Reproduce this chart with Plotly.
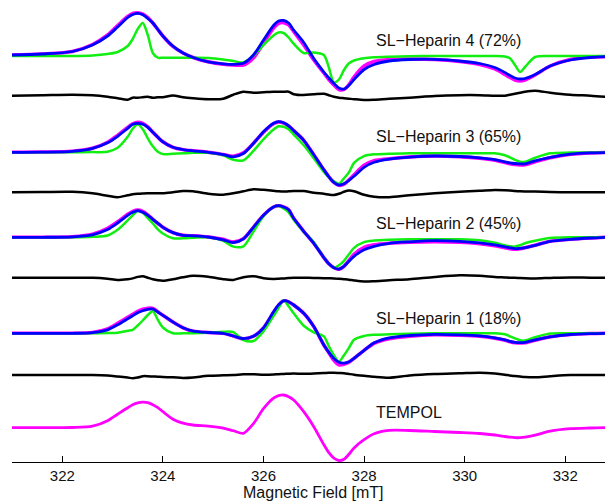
import plotly.graph_objects as go

# Magnetic field grid [mT]
field = [321.0, 321.6, 322.2, 322.6, 322.9, 323.1, 323.3, 323.4, 323.5, 323.6,
         323.7, 323.8, 323.9, 324.0, 324.2, 324.4, 324.6, 324.9, 325.2, 325.4,
         325.6, 325.8, 326.0, 326.2, 326.3, 326.4, 326.5, 326.6, 326.8, 327.0,
         327.2, 327.3, 327.4, 327.5, 327.6, 327.7, 327.8, 328.0, 328.2, 328.5,
         328.9, 329.4, 329.9, 330.3, 330.6, 330.8, 330.9, 331.0, 331.1, 331.2,
         331.4, 331.7, 332.1, 332.5, 332.8]

# TEMPOL reference spectrum (a.u.)
tempol = [0, 0, 0.2, 1.5, 7, 13.5, 20, 23, 24.8, 25.5,
          25, 23, 20, 16, 8.5, 4.5, 2.7, 1.5, -0.5, -3,
          -5.6, 4, 19, 29.5, 32, 32.7, 31, 27.7, 16, 1,
          -17, -25, -30.5, -32.8, -31.5, -26.5, -20.3, -12, -6, -2.7,
          -2.8, -3.8, -4.8, -5.8, -7.3, -8.8, -9.5, -10, -10, -9.5,
          -7.5, -3.5, -1, -0.3, 0]

# SL-Heparin 1 (18%)
h1_exp = [0, 0, 0, 0.8, 4.5, 10, 16, 19, 22, 24,
          25, 25, 21.5, 18, 11.3, 5.5, 2.2, 0.8, 0, -2.7,
          -5.5, -3, 5.5, 21, 28, 32.5, 31.5, 28.3, 20, 6.7,
          -11.7, -19.5, -27, -31.5, -31, -29, -25, -17, -10, -5.5,
          -3, -1.5, -2, -3, -5, -7, -8.5, -9.5, -9.8, -9.5,
          -7, -3.5, -1.2, -0.3, 0]
h1_fit = [0, 0, 0, 0.7, 3.5, 8.5, 14.5, 17.5, 20.5, 22.5,
          24, 24.3, 21.2, 18, 11.3, 5.5, 2.2, 0.8, 0, -2.7,
          -5.3, -3, 5.5, 21.5, 28.5, 32.5, 31.5, 28.3, 20, 6.7,
          -11.7, -19, -25.3, -29, -29.8, -28.5, -25, -17, -9.5, -4.5,
          -2.2, -1, -1.5, -2.5, -4.5, -6.5, -8, -9, -9.3, -9,
          -6.5, -3.5, -1.2, -0.3, 0]
h1_comp = [0, 0, 0, 0, 0.3, 0.6, 2.5, 3.5, 7.8, 12.8,
           18.3, 22, 13.5, 5.8, 0, 0, 0, 0.5, 1.5, 1.2,
           -6.7, -7.7, 2, 17.3, 25.3, 33, 27, 20, 7.5, 1,
           -3, -13, -22, -28.3, -22, -14.5, -6.5, -2.7, -1.5, -1,
           -0.5, 0, 0, 0, 0, -1, -3, -5, -7, -7.3,
           -4, -0.3, 0, 0, 0]
h1_res = [0, 0, 0, 0, -0.5, -1.5, -2.5, -3.3, -2.5, -1.2,
          -1.2, -1.5, -1.7, -2, -2.3, -3, -2.5, -0.8, -0.3, 0,
          0.7, 0.8, 0.3, 0.5, 0.8, 1, 1.3, 1.5, 1.2, 1.5,
          2, 2.2, 2.3, 2, 1.7, 1, 0.3, -0.8, -1.8, -2.7,
          -0.5, 1, 1.7, 2.3, 1.5, 0.3, -0.5, -1, -1.5, -2,
          -2.3, -1.2, 0, 0, 0]

# SL-Heparin 2 (45%)
h2_exp = [0, 0, 0.5, 3, 9, 15.5, 23, 26, 27.3, 26,
          22.5, 18, 14, 10, 4.7, 2, 1.5, 0.3, -2, -4.8,
          -1.5, 10, 22, 30.3, 31.6, 30.3, 27.5, 19, 6, -6,
          -20.3, -26.5, -30.5, -32, -29, -23, -17, -10, -7.5, -6,
          -5, -4.5, -5, -6.5, -8.5, -10.5, -11.5, -12, -11.5, -10.5,
          -8, -4, -2, -0.7, 0]
h2_fit = [0, 0, 0.5, 2.5, 7.8, 14.3, 22, 25, 26.7, 25,
          22, 18, 14, 10, 4.7, 2, 1.5, 0.3, -2.5, -5.3,
          -1.5, 10, 22, 30.3, 31.6, 30.3, 27.5, 19, 6, -6,
          -20.3, -26.5, -30.5, -31.8, -29, -24, -19, -12.5, -9, -6,
          -4.5, -3.4, -4, -5.5, -7.5, -9.5, -10.5, -11.3, -11, -10.3,
          -8, -4, -2, -0.7, 0]
h2_comp = [0, 0, 0, 0.5, 1.8, 7.5, 17, 22, 26.3, 24.5,
           19.2, 13.8, 8, 3.8, -1, -1, -0.5, 0, -3.5, -9.3,
           -9, 5.7, 21.2, 30.3, 31.3, 28.8, 25, 17.5, 5.5, -5,
           -20.3, -26.5, -30.5, -28, -23.5, -17, -10.6, -4.8, -3.3, -2.5,
           -2, -2, -2, -3, -5.5, -8, -9, -9.3, -8, -6,
           -3.5, -0.8, 0, 0, 0]
h2_res = [0, 0, 0, 0, -1, -2.3, -1.5, -0.7, 0.8, 1.5,
          0, -1.5, -2.5, -3, -1.5, 0.5, 2, 1, -1.5, -2.2,
          0.5, 1.5, -0.5, -1.2, -1, -0.7, -0.3, 0, 0, -0.2,
          -0.5, -0.6, -0.7, -1, -1.5, -2, -2.7, -3.8, -3.5, -2.5,
          -1.5, 0.8, 2.5, 2, 0.8, 0.3, 0, 0, -0.3, -0.5,
          -0.7, -0.2, 0.3, 0, 0]

# SL-Heparin 3 (65%)
h3_exp = [0, 0.2, 1, 4, 10, 17, 25, 28.5, 30, 29,
          25.5, 20, 15, 10.5, 5, 2.7, 1.5, 0, -2.3, -4,
          -0.5, 9, 20, 28.5, 30.2, 29.2, 26.5, 21.7, 12, -2.5,
          -17.5, -24.5, -30, -33, -32, -27.5, -22.5, -13, -8.5, -6.5,
          -4.8, -3.8, -4.5, -6, -8, -10.3, -11.5, -12.3, -12.7, -12.5,
          -9.5, -5.5, -2, -0.6, -0.3]
h3_fit = [0, 0.2, 1, 4, 9.5, 16, 24, 28, 29, 28,
          25, 20, 15, 10.5, 5, 2.7, 1.5, 0, -2.3, -4.5,
          -1.2, 8.8, 20.5, 29, 30.7, 29.5, 26.5, 21.7, 12, -2.5,
          -17.5, -24.5, -30, -32.7, -31.5, -28, -24, -15, -10, -6.8,
          -4.8, -3.7, -4.2, -5.5, -7.3, -9.5, -10.5, -11.2, -11.6, -11.6,
          -8.5, -5, -1.8, -0.6, -0.3]
h3_comp = [0, 0, 0, 0.2, 0.5, 4.5, 15.5, 23.5, 28, 23,
           14, 6, 0.5, -1.8, -1.5, -1, -0.5, -0.5, -3, -7.5,
           -8, 1.4, 13, 22.8, 26, 25.5, 23, 17.7, 7, -6,
           -19.7, -25, -29, -31.5, -26, -20, -10.5, -3.8, -2, -1.5,
           -1, -1, -1, -1, -1, -3, -5, -7.5, -9.5, -9.5,
           -5.5, -1, -0.3, -0.3, -0.3]
h3_res = [0, 0.3, 0.5, -1, -3.5, -5, -3, -2, -1.5, -1.2,
          -1, -1, -1, -1, 0, 1.2, 1, -1.5, -2.5, -1,
          1, 3, 2.5, 1.5, 1, 0.7, 1, 1.3, 1.2, -0.5,
          -1.5, -2.3, -2.7, -1.5, 0.5, 1.7, 1, -2.5, -4.5, -5,
          -3, -1, 0.5, 1.5, 2.3, 2, 1.7, 1.3, 1, 0.8,
          0.7, 0.3, 0, 0, 0]

# SL-Heparin 4 (72%)
h4_exp = [0, 1, 3.5, 10.5, 20, 29.5, 38.5, 41.5, 42.3, 41,
          37.5, 32, 25.5, 19, 8.5, 2, -2.5, -6.8, -9.3, -10,
          -10, -3, 12, 27, 31.5, 32.3, 30, 23.5, 10, -5,
          -18, -24.5, -30, -34.5, -34.5, -29.5, -22, -11, -6.5, -4.5,
          -4, -4.5, -6.5, -9.5, -14, -19.5, -22.5, -25, -26, -25,
          -20, -11, -4.5, -2, -1.7]
h4_fit = [0, 1, 3.5, 10, 19, 28, 37.5, 40.5, 41.7, 40.2,
          36.5, 32, 25.5, 18.8, 8.8, 2, -2.5, -6.8, -8.8, -9.3,
          -8.3, 0, 15, 29.5, 34, 34.5, 32, 25, 12.5, -3.5,
          -17, -23, -28.5, -33, -34, -30.3, -24.5, -14.5, -9.5, -6,
          -4.5, -4.3, -6, -8.5, -12.5, -17.5, -20.5, -23, -24, -23.5,
          -19.5, -11, -5, -2.5, -1.7]
h4_comp = [-1, -1, -1, -0.5, 1, 3, 9, 16, 26, 32,
           20, 2, -2.7, -2.7, -2.7, -2.7, -2.8, -3, -4.5, -6,
           -7.5, -0.8, 10, 19.5, 22.5, 22, 17.5, 11.3, 2, 2.5,
           0, -12.5, -27.5, -24.5, -15, -8.3, -5.5, -3.3, -2.3, -1.7,
           -1.2, -1, -1, -1, -1, -1.5, -3.3, -10, -17, -12,
           -2, -1, -1, -1, -1]
h4_res = [0, 0.5, 1, 0.5, -1, -2.5, -4, -2, -2, -1.5,
          -1, -2, -1.5, -1.5, 0.3, -1.5, -2.5, -3.5, -3, 1,
          4, 3, 3.5, 4, 4, 4, 4, 1.5, 0.7, 1.5,
          2, 0.5, -1, -2, -2.5, -3, -3.5, -4.3, -4, -3,
          -2, -0.3, 0.5, 0.5, 0, 0, 1, 2, 3, 4,
          5, 3, 1, 0, -1]

labels = ["SL\u2212Heparin 1 (18%)", "SL\u2212Heparin 2 (45%)",
          "SL\u2212Heparin 3 (65%)", "SL\u2212Heparin 4 (72%)", "TEMPOL"]
tick_vals = [322, 324, 326, 328, 330, 332]
x_title = "Magnetic Field [mT]"

# ---- layout / style (vertical stacking offsets) ----
panels = [
    (h1_exp, h1_fit, h1_comp, h1_res, 128.7, 87.0, 143.7),
    (h2_exp, h2_fit, h2_comp, h2_res, 224.7, 184.3, 238.7),
    (h3_exp, h3_fit, h3_comp, h3_res, 309.7, 269.7, 325.3),
    (h4_exp, h4_fit, h4_comp, h4_res, 407.0, 366.3, 422.0),
]
tempol_offset = 34.3
tempol_label_y = 49.7

MAG, BLU, GRN, BLK = "#FF00FF", "#0000FF", "#11EE11", "#000000"

fig = go.Figure()

def add(ys, off, color, width):
    fig.add_trace(go.Scatter(x=field, y=[v + off for v in ys], mode="lines",
                             line=dict(color=color, width=width, shape="spline", smoothing=0.8),
                             showlegend=False, hoverinfo="skip"))

for exp, fit, comp, res, off, roff, ly in panels:
    add(res, roff, BLK, 2.5)
    add(exp, off, MAG, 3.5)
    add(comp, off, GRN, 2.5)
    add(fit, off, BLU, 2.8)

add(tempol, tempol_offset, MAG, 2.8)

label_x = 328.2
for (exp, fit, comp, res, off, roff, ly), lab in zip(panels, labels[:4]):
    fig.add_annotation(x=label_x, y=ly, text=lab, showarrow=False, xanchor="left",
                       yanchor="middle", font=dict(size=16, color="#111"))
fig.add_annotation(x=label_x, y=tempol_label_y, text=labels[4], showarrow=False,
                   xanchor="left", yanchor="middle", font=dict(size=16, color="#111"))

fig.add_annotation(x=0.5076, y=0, xref="paper", yref="paper", text=x_title,
                   showarrow=False, xanchor="center", yanchor="top", yshift=-20,
                   font=dict(size=16, color="#111"))

fig.update_layout(
    width=605, height=502,
    margin=dict(l=12, r=0, t=0, b=40),
    paper_bgcolor="white", plot_bgcolor="white",
    font=dict(family="Liberation Sans, Arial, sans-serif", color="#111"),
    xaxis=dict(range=[321.0, 332.79], tickvals=tick_vals,
               ticktext=[str(v) for v in tick_vals],
               ticks="inside", ticklen=6, tickcolor="black", tickwidth=1,
               showline=True, linecolor="black", linewidth=1,
               showgrid=False, zeroline=False, tickfont=dict(size=15)),
    yaxis=dict(range=[0, 462], visible=False, showgrid=False, zeroline=False),
)

fig.write_html("out.html", config={"displayModeBar": False},
               post_script="document.body.style.margin='0px';document.body.style.padding='0px';")
